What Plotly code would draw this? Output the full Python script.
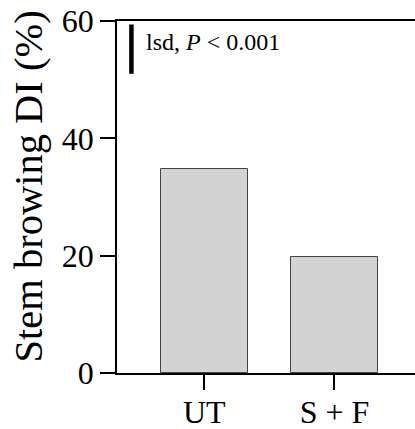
import plotly.graph_objects as go

categories = ["UT", "S + F"]
values = [34.8, 19.8]
lsd_x = [-0.56, -0.56]
lsd_y = [51.0, 59.4]
y_ticks = [0, 20, 40, 60]
y_title = "Stem browing DI (%)"
lsd_label = "lsd, <i>P</i> < 0.001"

FONT = "Liberation Serif, Times New Roman, serif"

fig = go.Figure()
fig.add_trace(go.Bar(
    x=[0, 1], y=values, width=0.665,
    marker=dict(color="#d3d3d3", line=dict(color="#444444", width=1)),
    showlegend=False, hoverinfo="skip",
))
fig.add_trace(go.Scatter(
    x=lsd_x, y=lsd_y, mode="lines",
    line=dict(color="black", width=4.5),
    showlegend=False, hoverinfo="skip",
))
fig.add_annotation(
    x=-0.465, y=56.5, xref="x", yref="y", text=lsd_label, showarrow=False,
    xanchor="left", yanchor="middle", font=dict(family=FONT, size=24, color="black"),
)
# y-axis title as rotated text
fig.add_annotation(
    x=-0.2987, y=0.53, xref="paper", yref="paper", text=y_title, showarrow=False,
    textangle=-90, xanchor="center", yanchor="middle",
    font=dict(family=FONT, size=40.5, color="black"),
)

fig.update_layout(
    template="none",
    width=415, height=429,
    margin=dict(l=117, r=0, t=21, b=56, pad=0),
    paper_bgcolor="white", plot_bgcolor="white",
    font=dict(family=FONT, color="black"),
    bargap=0,
)
fig.update_xaxes(
    automargin=False,
    range=[-0.671, 1.619], tickvals=[0, 1], ticktext=categories,
    showline=True, linecolor="black", linewidth=1.5, mirror=True,
    ticks="outside", ticklen=15, tickwidth=1.5, tickcolor="black",
    ticklabelstandoff=-5,
    showgrid=False, zeroline=False,
    tickfont=dict(family=FONT, size=32, color="black"),
)
fig.update_yaxes(
    automargin=False,
    range=[0, 60], tickvals=y_ticks,
    showline=True, linecolor="black", linewidth=1.5,
    ticks="outside", ticklen=15, tickwidth=1.5, tickcolor="black",
    showgrid=False, zeroline=False,
    tickfont=dict(family=FONT, size=32, color="black"),
)

fig.write_html("out.html")
